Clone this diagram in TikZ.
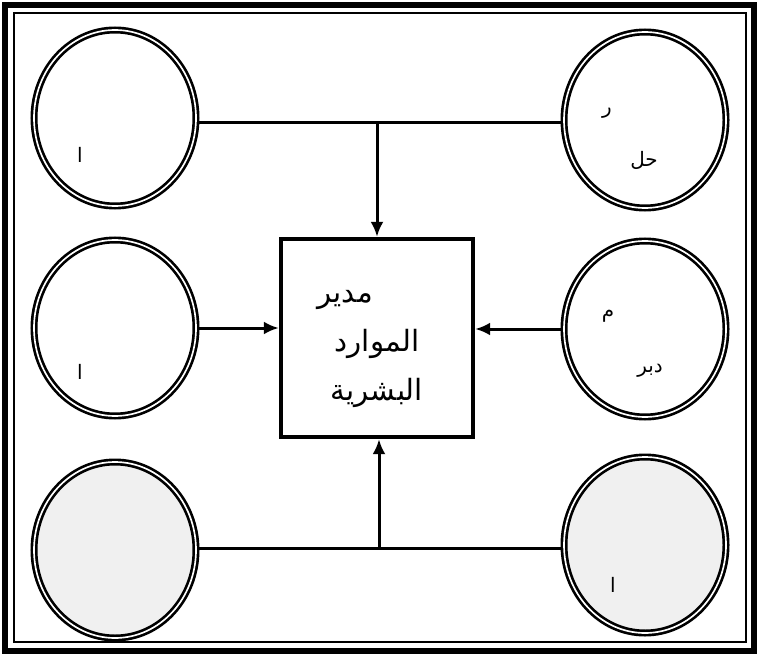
\documentclass[tikz,border=0pt]{standalone}
\usepackage{fontspec}
\newfontfamily\arabicfont[Script=Arabic]{DejaVu Sans}
\TeXXeTstate=1
\usetikzlibrary{shapes.geometric,arrows.meta}

\begin{document}
\begin{tikzpicture}[
    x=0.3mm, y=-0.3mm,
    >={Latex[length=4.5mm,width=3.9mm]},
    every node/.style={font=\arabicfont},
    unit/.style={
        draw, ellipse, double, line width=0.8mm, double distance=0.5mm,
        minimum width=48.6mm, minimum height=52.8mm, inner sep=0pt
    },
    shaded/.style={unit, fill=black!6},
    manager/.style={
        draw, line width=1.3mm,
        minimum width=57.6mm, minimum height=59.4mm
    },
    link/.style={line width=0.9mm},
    frag/.style={font=\arabicfont\fontsize{17}{20}\selectfont}
]

\useasboundingbox (0,0) rectangle (759,656);

\def\lx{115}
\def\rx{645}

% double frame
\draw[line width=1.6mm] (5,5) rectangle (754,651);
\draw[line width=0.7mm] (14,13) rectangle (746,642);

% units around the manager
\node[unit]   (tl) at (\lx,118) {};
\node[unit]   (tr) at (\rx,120) {};
\node[unit]   (ml) at (\lx,328) {};
\node[unit]   (mr) at (\rx,329) {};
\node[shaded] (bl) at (\lx,550) {};
\node[shaded] (br) at (\rx,545) {};

% manager box and its title
\node[manager] (hr) at (377,338) {};
\node[align=center, font=\arabicfont\fontsize{25}{42}\selectfont]
    (hrtitle) at (377,349)
    {\beginR مدير\endR\hspace*{19mm}\\
     \beginR الموارد\endR\\
     \beginR البشرية\endR};

% text fragments inside the units
\node[frag] (tla) at (80,155)  {\beginR ا\endR};
\node[frag] (tra) at (607,113) {\beginR ر\endR};
\node[frag] (trb) at (644,160) {\beginR حل\endR};
\node[frag] (mla) at (80,372)  {\beginR ا\endR};
\node[frag] (mra) at (608,316) {\beginR م\endR};
\node[frag] (mrb) at (650,371) {\beginR دبر\endR};
\node[frag] (bra) at (613,585) {\beginR ا\endR};

% connectors
\coordinate (topjoin) at (377,123);
\coordinate (botjoin) at (379,548);
\draw[link] (tl.east |- topjoin) -- (tr.west |- topjoin);
\draw[link,->] (topjoin) -- (topjoin |- hr.north);
\draw[link,->] (ml.east) -- (ml.east -| hr.west);
\draw[link,->] (mr.west) -- (mr.west -| hr.east);
\draw[link] (bl.east |- botjoin) -- (br.west |- botjoin);
\draw[link,->] (botjoin) -- (botjoin |- hr.south);

\end{tikzpicture}
\end{document}
